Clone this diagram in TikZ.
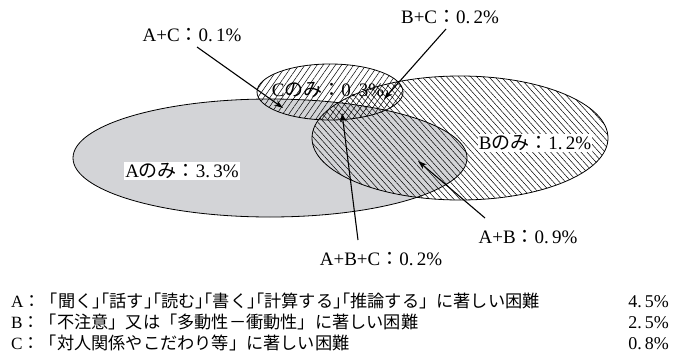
\documentclass[tikz,border=0pt]{standalone}
\usepackage{fontspec}
\setmainfont{Liberation Serif}
\newfontfamily\cjk{Noto Sans CJK JP}
\newfontfamily\cjkh[RawFeature=+halt]{Noto Sans CJK JP}
\usetikzlibrary{patterns.meta,arrows.meta}
\definecolor{agray}{RGB}{211,212,215}
\newcommand\J[1]{{\cjk #1}}
\newcommand\BP{{\cjkh 」「}}
\begin{document}
\begin{tikzpicture}[x=1pt,y=-1pt,
  lab/.style={font=\fontsize{19}{22}\selectfont, inner sep=1pt},
  leg/.style={font=\fontsize{17.2}{21}\selectfont, inner sep=0pt},
  pct/.style={font=\fontsize{18}{21}\selectfont, inner sep=0pt},
  arr/.style={-{Stealth[length=9pt,width=6pt]}, line width=1.1pt},
  outl/.style={line width=0.8pt},
  hatchB/.style={pattern={Lines[angle=-48,distance=4.5pt,line width=0.5pt]}},
  hatchC/.style={pattern={Lines[angle=55,distance=5pt,line width=0.5pt]}}]
\useasboundingbox (0,0) rectangle (674,361);
% sets
\fill[agray] (270,158) ellipse [x radius=197, y radius=59];
\path[hatchB] (460,138) ellipse [x radius=148, y radius=62];
\path[hatchC] (330,92) ellipse [x radius=73, y radius=28];
\draw[outl] (270,158) ellipse [x radius=197, y radius=59];
\draw[outl] (460,138) ellipse [x radius=148, y radius=62];
\draw[outl] (330,92) ellipse [x radius=73, y radius=28];
% labels
\node[lab] (ac) at (192,35) {A+C\J{：}0.\,1\%};
\node[lab] (bc) at (450,17) {B+C\J{：}0.\,2\%};
\node[lab] (conly) at (328,90) {C\J{のみ：}0.\,3\%};
\node[lab, fill=white] (bonly) at (535,143) {B\J{のみ：}1.\,2\%};
\node[lab, fill=white] (aonly) at (182,171) {A\J{のみ：}3.\,3\%};
\node[lab] (ab) at (528,237) {A+B\J{：}0.\,9\%};
\node[lab] (abc) at (381,259) {A+B+C\J{：}0.\,2\%};
% arrows
\coordinate (acS) at (197,47);  \coordinate (acT) at (283,108);
\coordinate (bcS) at (446,29);  \coordinate (bcT) at (384,99);
\coordinate (abcS) at (358,240); \coordinate (abcT) at (342,113);
\coordinate (abS) at (485,218); \coordinate (abT) at (418,161);
\draw[arr] (acS) -- (acT);
\draw[arr] (bcS) -- (bcT);
\draw[arr] (abcS) -- (abcT);
\draw[arr] (abS) -- (abT);
% legend
\node[leg, anchor=base west] (l1) at (11,307) {A\J{：「聞く\BP 話す\BP 読む\BP 書く\BP 計算する\BP 推論する」に著しい困難}};
\node[leg, anchor=base west] (l2) at (11,328) {B\J{：「不注意」又は「多動性－衝動性」に著しい困難}};
\node[leg, anchor=base west] (l3) at (11,349) {C\J{：「対人関係やこだわり等」に著しい困難}};
\node[pct, anchor=base east] (p1) at (669,307) {4.\,5\%};
\node[pct, anchor=base east] (p2) at (669,328) {2.\,5\%};
\node[pct, anchor=base east] (p3) at (669,349) {0.\,8\%};
\end{tikzpicture}
\end{document}
